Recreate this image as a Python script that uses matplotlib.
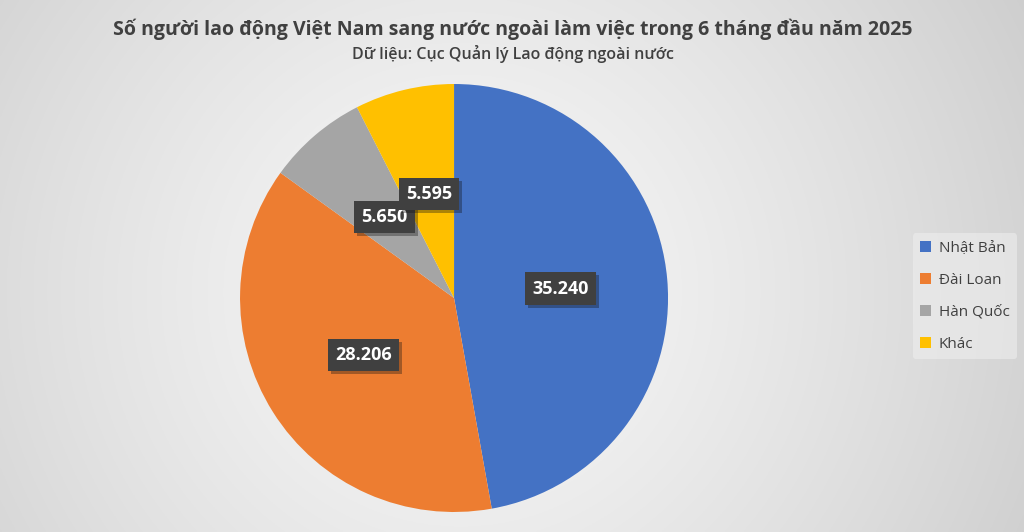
import numpy as np
import matplotlib
matplotlib.use('Agg')
import matplotlib.pyplot as plt
import matplotlib.patheffects as pe

plt.rcParams['font.family'] = ['Open Sans', 'DejaVu Sans']

# du lieu
countries = ['Nhật Bản', 'Đài Loan', 'Hàn Quốc', 'Khác']
workers = [35240, 28206, 5650, 5595]
colors = ['#4472C4', '#ED7D31', '#A5A5A5', '#FFC000']

title = 'Số người lao động Việt Nam sang nước ngoài làm việc trong 6 tháng đầu năm 2025'
subtitle = 'Dữ liệu: Cục Quản lý Lao động ngoài nước'


def fmt_vn(v):
    return f'{v:,}'.replace(',', '.')


fig = plt.figure(figsize=(10.24, 5.32), dpi=100)

# nen gradient toa tron
bg = fig.add_axes([0, 0, 1, 1], zorder=-10)
yy, xx = np.mgrid[0:1:300j, 0:1:600j]
d = np.sqrt(((xx - 0.45) * 1.9) ** 2 + ((yy - 0.55) * 1.0) ** 2)
d = np.clip(d / d.max(), 0, 1)
shade = 0.97 - 0.16 * d ** 1.3
bg.imshow(np.dstack([shade, shade, shade]), aspect='auto', extent=[0, 1, 0, 1])
bg.axis('off')

ax = fig.add_axes([0.2344, 0.0376, 0.418, 0.8045])
wedges, _ = ax.pie(workers, colors=colors, startangle=90, counterclock=False,
                   radius=1, wedgeprops=dict(linewidth=0))
ax.set_xlim(-1, 1)
ax.set_ylim(-1, 1)
ax.set_aspect('equal')

total = sum(workers)
start = 0.0
for v in workers:
    mid = (start + v / 2) / total
    ang = np.pi / 2 - 2 * np.pi * mid
    r = 0.5
    t = ax.text(r * np.cos(ang), r * np.sin(ang), fmt_vn(v), ha='center', va='center',
                color='white', fontsize=13, fontweight='bold',
                bbox=dict(boxstyle='square,pad=0.4', facecolor='#404040', edgecolor='none'))
    t.get_bbox_patch().set_path_effects([pe.SimplePatchShadow(offset=(2, -2), alpha=0.35), pe.Normal()])
    start += v

leg = fig.legend(wedges, countries, loc='center left', bbox_to_anchor=(0.884, 0.443),
                 frameon=True, fontsize=11, labelspacing=1.1, handlelength=0.7,
                 handleheight=0.7, handletextpad=0.5, borderpad=0.5)
leg.get_frame().set_facecolor('#eeeeee')
leg.get_frame().set_edgecolor('none')
leg.get_frame().set_alpha(0.6)
for txt in leg.get_texts():
    txt.set_color('#404040')

fig.text(0.501, 0.944, title, ha='center', va='center', fontsize=14,
         fontweight='bold', color='#404040')
fig.text(0.501, 0.898, subtitle, ha='center', va='center', fontsize=11.5,
         fontweight='semibold', color='#404040')

fig.savefig('out.png', dpi=100)
